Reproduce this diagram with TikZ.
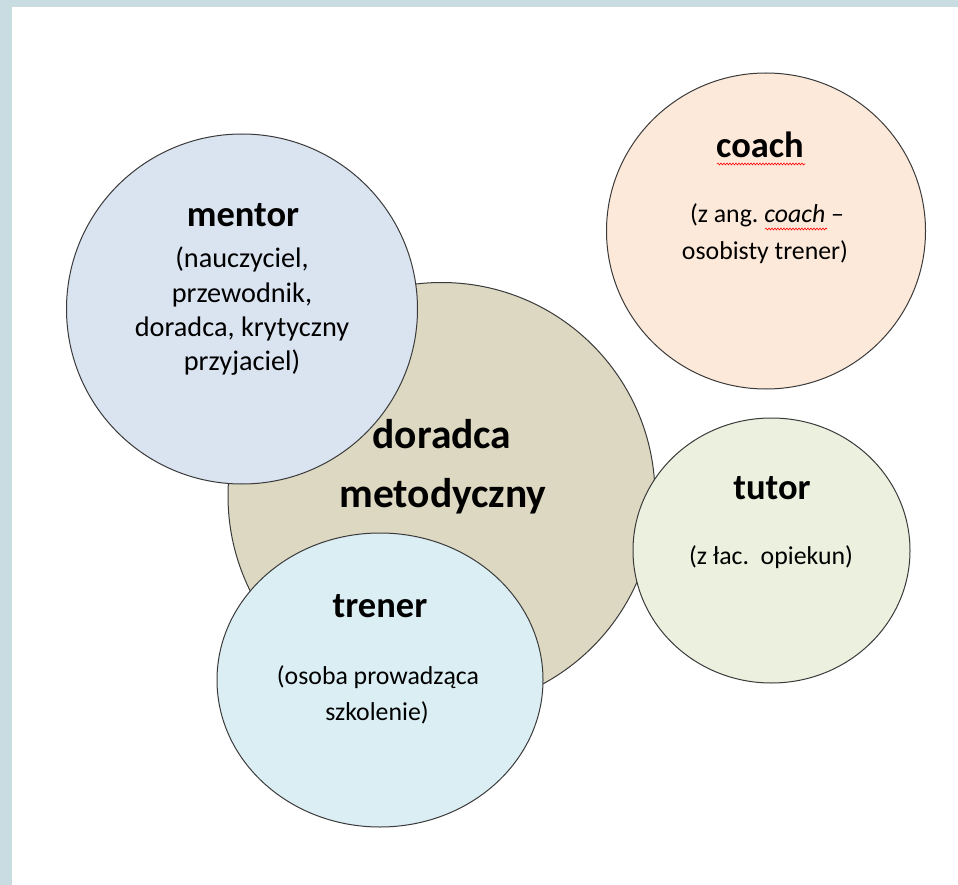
\documentclass[tikz,border=0pt]{standalone}
\usepackage{fontspec}
\setmainfont{Carlito}
\usetikzlibrary{shapes.geometric,decorations.pathmorphing}
\definecolor{framec}{HTML}{C9DCE1}
\definecolor{linec}{HTML}{3A3A3A}
\definecolor{mentorc}{HTML}{DAE3F0}
\definecolor{doradcac}{HTML}{DDD8C2}
\definecolor{coachc}{HTML}{FDE9D9}
\definecolor{tutorc}{HTML}{EBF1DE}
\definecolor{trenerc}{HTML}{DBEEF4}
\tikzset{
  blob/.style={ellipse, draw=linec, line width=1pt, inner sep=0pt},
  titletext/.style={anchor=base, inner sep=0pt, font=\fontsize{36.5}{44}\selectfont\bfseries},
  bigtitle/.style={anchor=base, inner sep=0pt, font=\fontsize{41.5}{50}\selectfont\bfseries},
  subtext/.style={anchor=base, inner sep=0pt, font=\fontsize{25.8}{31}\selectfont},
  mentorsub/.style={anchor=base, inner sep=0pt, font=\fontsize{28.3}{34}\selectfont},
  spell/.style={draw=red, line width=0.6pt, decorate, decoration={snake, segment length=3pt, amplitude=0.9pt}}
}
\frenchspacing
\begin{document}
\begin{tikzpicture}[x=1pt,y=-1pt]
\path[use as bounding box, fill=white] (0,0) rectangle (958,885);
\fill[framec] (0,0) rectangle (958,7);
\fill[framec] (0,0) rectangle (12,885);

% circles
\node[blob, fill=doradcac, minimum width=427pt, minimum height=427pt] (doradca) at (441.5,496) {};
\node[blob, fill=mentorc, minimum width=351pt, minimum height=350pt] (mentor) at (242,309) {};
\node[blob, fill=trenerc, minimum width=326pt, minimum height=294pt] (trener) at (380,680) {};
\node[blob, fill=coachc, minimum width=319pt, minimum height=316pt] (coach) at (766,231) {};
\node[blob, fill=tutorc, minimum width=277pt, minimum height=265pt] (tutor) at (771.5,550.5) {};

% mentor
\node[titletext] (mentorT) at (243,227) {mentor};
\node[mentorsub] (mentorS1) at (242,268) {(nauczyciel,};
\node[mentorsub] (mentorS2) at (242,302) {przewodnik,};
\node[mentorsub] (mentorS3) at (242,336) {doradca, krytyczny};
\node[mentorsub] (mentorS4) at (242,370) {przyjaciel)};

% doradca metodyczny
\node[bigtitle] (doradcaT1) at (442,448) {doradca};
\node[bigtitle] (doradcaT2) at (443,507) {metodyczny};

% coach
\node[titletext] (coachT) at (760,158) {coach};
\node[subtext] (coachS1) at (767,223) {(z ang.\ \textit{coach} –};
\node[subtext] (coachS2) at (765,260) {osobisty trener)};
\coordinate (w1a) at (717,164);
\coordinate (w1b) at (805,164);
\coordinate (w2a) at (765,229);
\coordinate (w2b) at (827,229);
\draw[spell] (w1a) -- (w1b);
\draw[spell] (w2a) -- (w2b);

% tutor
\node[titletext] (tutorT) at (772,499) {tutor};
\node[subtext] (tutorS) at (771,564) {(z łac.\ \ opiekun)};

% trener
\node[titletext] (trenerT) at (380,617) {trener};
\node[subtext] (trenerS1) at (378,684) {(osoba prowadząca};
\node[subtext] (trenerS2) at (377,720) {szkolenie)};
\end{tikzpicture}
\end{document}
